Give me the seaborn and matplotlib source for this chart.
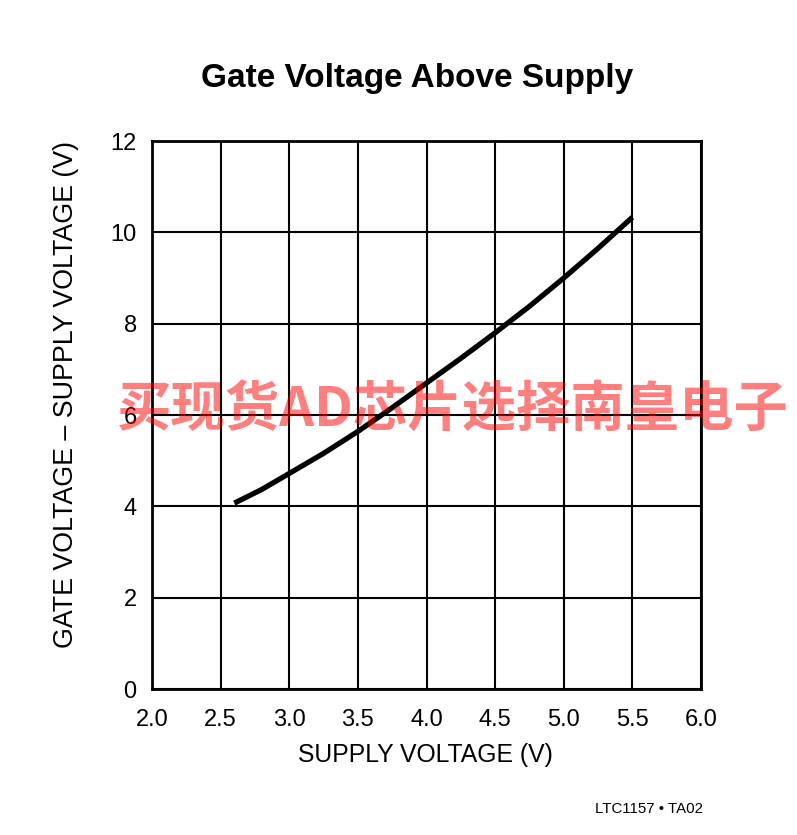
import matplotlib
matplotlib.use("Agg")
import matplotlib.pyplot as plt
import seaborn as sns
import pandas as pd

supply_v = [2.6, 2.8, 3.0, 3.25, 3.5, 3.75, 4.0, 4.25, 4.5, 4.75, 5.0, 5.25, 5.5]
gate_above = [4.07, 4.37, 4.72, 5.16, 5.64, 6.16, 6.70, 7.24, 7.80, 8.38, 9.00, 9.65, 10.33]
x_ticks = [2.0, 2.5, 3.0, 3.5, 4.0, 4.5, 5.0, 5.5, 6.0]
y_ticks = [0, 2, 4, 6, 8, 10, 12]
title = "Gate Voltage Above Supply"
x_label = "SUPPLY VOLTAGE (V)"
y_label = "GATE VOLTAGE – SUPPLY VOLTAGE (V)"
footer = "LTC1157 • TA02"
watermark = "买现货AD芯片选择南皇电子"

sns.set_theme(style="white")
plt.rcParams['font.family'] = ['Liberation Sans', 'DejaVu Sans']

df = pd.DataFrame({"x": supply_v, "y": gate_above})

fig = plt.figure(figsize=(7.97, 8.35), dpi=100)
ax = fig.add_axes([152/797, 1-689/835, (701-152)/797, (689-141)/835])

sns.lineplot(data=df, x="x", y="y", ax=ax, color="black", linewidth=3.8,
             solid_capstyle="butt", solid_joinstyle="round")

ax.set_xlim(2.0, 6.0)
ax.set_ylim(0, 12)
ax.set_xticks(x_ticks)
ax.set_xticklabels([f"{v:.1f}" for v in x_ticks])
ax.set_yticks(y_ticks)
ax.set_yticklabels([str(v) for v in y_ticks])
ax.grid(True, color="black", linewidth=1.5)
ax.set_axisbelow(True)
for s in ax.spines.values():
    s.set_color("black")
    s.set_linewidth(2)
ax.tick_params(axis="both", length=0, labelsize=17, colors="black")
ax.tick_params(axis="y", pad=11)
ax.tick_params(axis="x", pad=14.5)
ax.set_xlabel(x_label, fontsize=17.8, color="black")
ax.set_ylabel(y_label, fontsize=19.3, color="black")
ax.xaxis.label.set_verticalalignment("center")
ax.yaxis.label.set_verticalalignment("center")
ax.xaxis.set_label_coords((425-152)/549, (689-755)/548)
ax.yaxis.set_label_coords((66-152)/549, (689-394)/548)

fig.text(417.5/797, 1-87/835, title, ha="center", va="baseline", fontsize=24,
         fontweight="bold", color="black")
fig.text(703/797, 1-809/835, footer, ha="right", va="center", fontsize=10.8, color="black")

fig.text(452.5/797, 1-410/835, watermark, ha="center", va="center", fontsize=39.2,
         fontweight="bold", color=(1, 0, 0, 0.5),
         family=['Noto Sans CJK SC', 'DejaVu Sans'], zorder=10)

fig.savefig("out.png", dpi=100, facecolor="white")
